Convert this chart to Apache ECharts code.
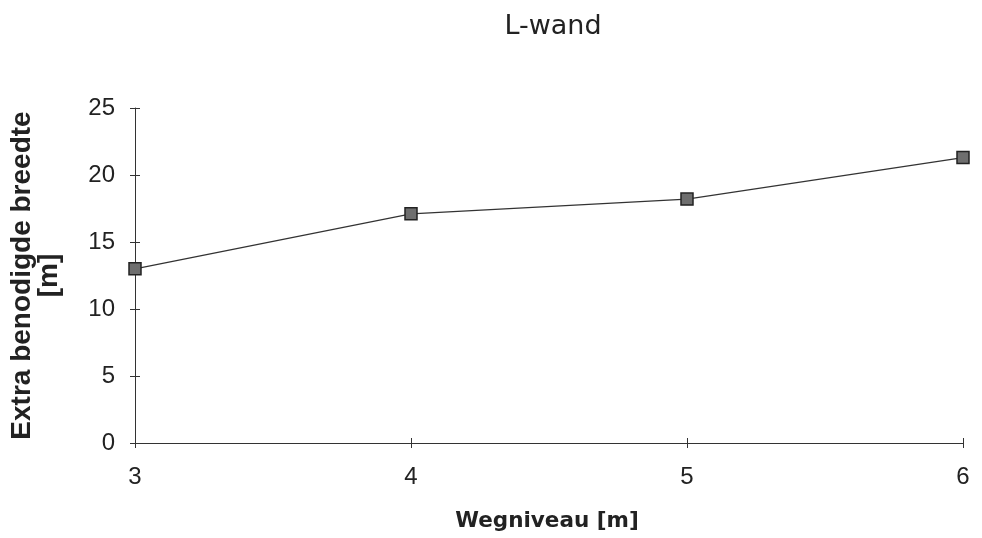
<!DOCTYPE html>
<html>
<head>
<meta charset="utf-8">
<script src="https://cdn.jsdelivr.net/npm/echarts@6/dist/echarts.min.js"></script>
<style>html,body{margin:0;padding:0;background:#fff}#c{width:982px;height:538px}</style>
</head>
<body>
<div id="c"></div>
<script>
const titleText = "L-wand";
const xName = "Wegniveau [m]";
const yName = "Extra benodigde breedte\n[m]";
const xValues = [3, 4, 5, 6];
const yValues = [13.0, 17.1, 18.2, 21.3];

const font = 'Liberation Sans, Arial, sans-serif';
const wide = 'DejaVu Sans, Verdana, sans-serif';
const chart = echarts.init(document.getElementById('c'), null, {renderer: 'canvas'});
chart.setOption({
  animation: false,
  backgroundColor: '#ffffff',
  title: {
    text: titleText, left: 548, top: 8, textAlign: 'center',
    textStyle: {fontFamily: wide, fontSize: 27, fontWeight: 'normal', color: '#222'}
  },
  grid: {left: 135, right: 19, top: 108, bottom: 95, containLabel: false},
  xAxis: [{
    type: 'value', min: 3, max: 6, interval: 1,
    name: xName, nameLocation: 'middle', nameGap: 67,
    nameTextStyle: {fontFamily: wide, fontSize: 21.5, fontWeight: 'bold', color: '#222', padding: [0, 4, 0, 0]},
    axisLine: {lineStyle: {color: '#333', width: 1}},
    axisTick: {show: true, inside: false, length: 5, lineStyle: {color: '#333'}},
    axisLabel: {fontFamily: font, fontSize: 24, color: '#222', margin: 22},
    splitLine: {show: false}
  }, {
    type: 'value', min: 3, max: 6, interval: 1, position: 'bottom', offset: 0,
    axisLine: {show: false},
    axisTick: {show: true, inside: true, length: 5, lineStyle: {color: '#333'}},
    axisLabel: {show: false},
    splitLine: {show: false}
  }],
  yAxis: [{
    type: 'value', min: 0, max: 25, interval: 5,
    name: yName, nameLocation: 'middle', nameGap: 72, nameRotate: 90,
    nameTextStyle: {fontFamily: font, fontSize: 28, fontWeight: 'bold', color: '#222', lineHeight: 27, align: 'center'},
    axisLine: {show: true, lineStyle: {color: '#333', width: 1}},
    axisTick: {show: true, inside: false, length: 5, lineStyle: {color: '#333'}},
    axisLabel: {fontFamily: font, fontSize: 24, color: '#222', margin: 20},
    splitLine: {show: false}
  }, {
    type: 'value', min: 0, max: 25, interval: 5, position: 'left', offset: 0,
    axisLine: {show: false},
    axisTick: {show: true, inside: true, length: 5, lineStyle: {color: '#333'}},
    axisLabel: {show: false},
    splitLine: {show: false}
  }],
  series: [{
    type: 'line',
    data: xValues.map((x, i) => [x, yValues[i]]),
    symbol: 'rect', symbolSize: 12,
    itemStyle: {color: '#6e6e6e', borderColor: '#222', borderWidth: 1.5},
    lineStyle: {color: '#333', width: 1.3},
    clip: false
  }]
});
</script>
</body>
</html>
